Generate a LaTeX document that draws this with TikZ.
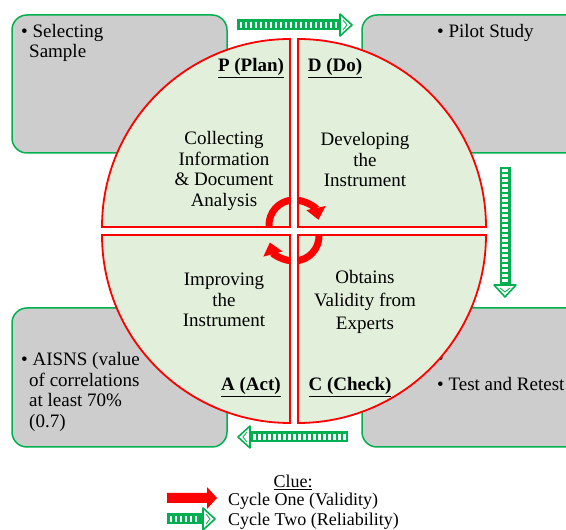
\documentclass[tikz,border=0pt]{standalone}
\usepackage{fontspec}
\setmainfont{Liberation Serif}
\newfontfamily\timesface{Liberation Serif}
\usepackage{tikz}
\usetikzlibrary{calc, positioning, arrows.meta}
\usepackage{xcolor}
\definecolor{quadFill}{RGB}{226, 239, 218}
\definecolor{boxGray}{RGB}{205, 205, 205}
\definecolor{cycGreen}{RGB}{0, 176, 80}

% tail x, tail y, direction, length
\newcommand{\stripedarrow}[4]{%
  \begin{scope}[shift={(#1,#2)}, rotate=#3]
    \pgfmathsetmacro{\headbase}{#4-12}
    \pgfmathsetmacro{\lastslit}{#4-16}
    \fill[cycGreen] (0,-5.5) rectangle (\headbase,5.5);
    \foreach \s in {2.5,7.5,...,\lastslit}
      \fill[white] (\s,-3.2) rectangle ++(2.2,6.4);
    \draw[cycGreen, line width=1.6pt, fill=white, line join=round]
      (\headbase,-11) -- (#4,0) -- (\headbase,11) -- cycle;
    \draw[cycGreen, line width=0.8pt] (\headbase+3,-5) -- (#4-5,0) -- (\headbase+3,5);
  \end{scope}}

\begin{document}
\begin{tikzpicture}[x=1pt, y=1pt, >=Stealth,
  font=\timesface\fontsize{19}{20.5}\selectfont,
  sidebox/.style={draw=cycGreen, line width=1.5pt, fill=boxGray, rounded corners=15pt},
  quadtext/.style={align=center, inner sep=0pt},
  phase/.style={font=\timesface\fontsize{19}{20.5}\selectfont\bfseries, inner sep=0pt},
  bullettext/.style={align=left, inner sep=0pt, anchor=west},
  cluetext/.style={inner sep=0pt, font=\timesface\fontsize{18}{20}\selectfont},
  cyclearrow/.style={red, line width=7pt, -{Triangle[width=19pt, length=12pt]}}]
  \useasboundingbox (0,0) rectangle (566,530);
  \clip (0,0) rectangle (566,530);

  % side boxes
  \draw[sidebox] (12,377) rectangle (227,515);
  \draw[sidebox] (362,377) rectangle (600,515);
  \draw[sidebox] (12,83) rectangle (227,222);
  \draw[sidebox] (362,83) rectangle (600,222);

  \node[bullettext] (selTxt) at (21,487) {•~Selecting\\\hspace*{8pt}Sample};
  \node[bullettext] (pilotTxt) at (437,497) {•~Pilot Study};
  \node[bullettext] (aisnsTxt) at (21,138)
    {•~AISNS (value\\\hspace*{8pt}of correlations\\\hspace*{8pt}at least 70\%\\\hspace*{8pt}(0.7)};
  \node[bullettext] (emptyTxt) at (437,170) {•};
  \node[bullettext] (retestTxt) at (437,146) {•~Test and Retest};

  % the four quadrants
  \foreach \cx/\cy/\a in {290/303/90, 298/303/0, 290/295/180, 298/295/270}
    \fill[quadFill] (\cx,\cy) -- ++(\a:188) arc[start angle=\a, end angle=\a+90, radius=188] -- cycle;

  % cycle one
  \draw[cyclearrow] ($(294,305)+(183:25)$) arc[start angle=183, end angle=12, radius=25];
  \draw[cyclearrow] ($(294,294)+(3:25)$) arc[start angle=3, end angle=-165, radius=25];
  \fill[white] (290,250) rectangle (298,350);
  \fill[white] (245,295) rectangle (343,303);

  \foreach \cx/\cy/\a in {290/303/90, 298/303/0, 290/295/180, 298/295/270}
    \draw[red, line width=1.8pt] (\cx,\cy) -- ++(\a:188) arc[start angle=\a, end angle=\a+90, radius=188] -- cycle;

  \node[phase] (plan) at (251,462) {\underline{P (Plan)}};
  \node[phase] (do) at (335,462) {\underline{D (Do)}};
  \node[phase] (act) at (251,143) {\underline{A (Act)}};
  \node[phase] (check) at (350,143) {\underline{C (Check)}};

  \node[quadtext] (planTxt) at (224,359) {Collecting\\Information\\\& Document\\Analysis};
  \node[quadtext] (doTxt) at (365,370) {Developing\\the\\Instrument};
  \node[quadtext] (actTxt) at (224,230) {Improving\\the\\Instrument};
  \node[quadtext, font=\timesface\fontsize{19}{23}\selectfont] (checkTxt) at (365,228)
    {Obtains\\Validity from\\Experts};

  % cycle two
  \stripedarrow{237}{505}{0}{115}
  \stripedarrow{505}{363}{-90}{130}
  \stripedarrow{348}{93}{180}{110}

  % clue
  \node[cluetext] (clue) at (293,48) {\underline{Clue:}};
  \fill[red] (167,27) -- (207,27) -- (207,21) -- (217,32) -- (207,43) -- (207,37) -- (167,37) -- cycle;
  \node[cluetext, anchor=west] (cycOne) at (228,29) {Cycle One (Validity)};
  \stripedarrow{167}{11}{0}{48}
  \node[cluetext, anchor=west] (cycTwo) at (228,9) {Cycle Two (Reliability)};
\end{tikzpicture}
\end{document}
